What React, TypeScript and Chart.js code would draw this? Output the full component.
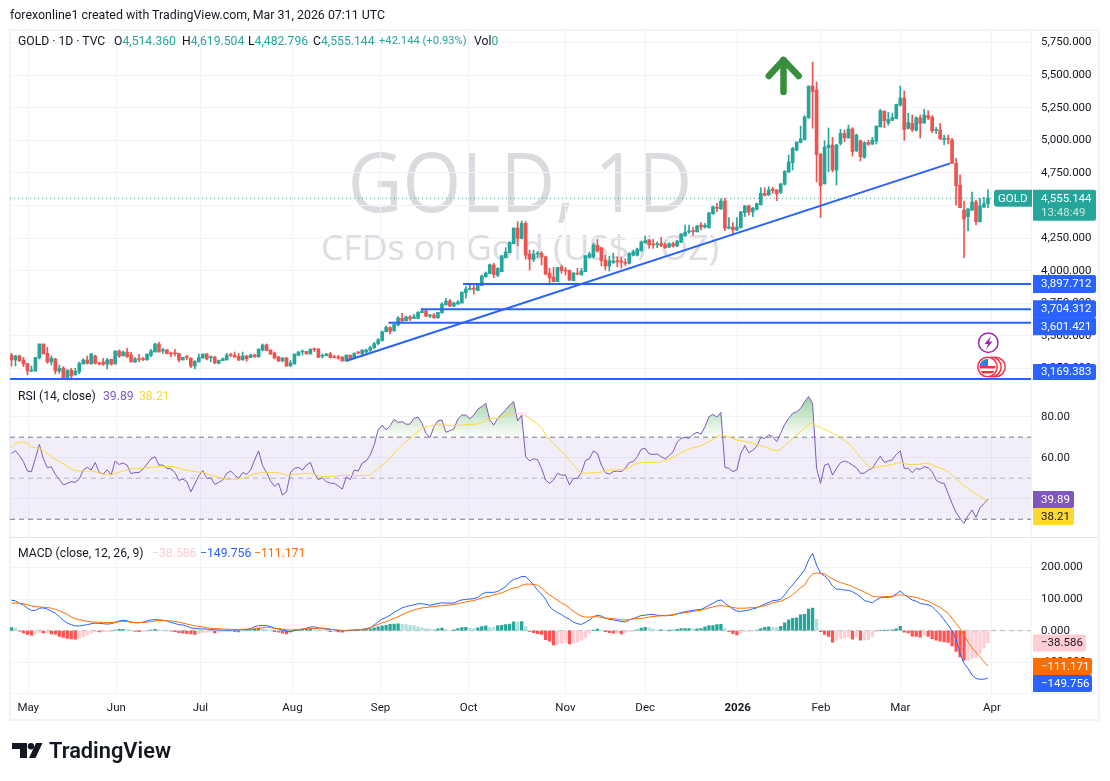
import React, { useEffect, useRef } from "react";
import { Chart, registerables } from "chart.js";

Chart.register(...registerables);

const FONT = 'Roboto, "Noto Sans", sans-serif';
const GREEN = "#26a69a";
const RED = "#ef5350";
const BLUE = "#2962ff";
const GRID = "#f0f3fa";
const TEXT = "#131722";

const open = [
  3353,3315,3346,3315,3289,3230,3230,3330,3438,3366,
  3300,3323,3230,3253,3167,3238,3200,3223,3284,3315,
  3284,3346,3289,3300,3284,3320,3284,3384,3346,3376,
  3353,3300,3325,3320,3315,3351,3376,3438,3384,3392,
  3369,3369,3366,3315,3340,3330,3269,3300,3330,3361,
  3333,3338,3289,3310,3315,3353,3351,3343,3315,3346,
  3333,3353,3340,3392,3430,3392,3369,3338,3310,3330,
  3269,3284,3351,3376,3381,3361,3399,3399,3343,3348,
  3361,3340,3338,3338,3307,3351,3330,3374,3361,3376,
  3390,3410,3440,3465,3532,3563,3540,3583,3634,3616,
  3645,3634,3634,3678,3691,3652,3660,3639,3678,3737,
  3767,3729,3744,3752,3831,3857,3867,3847,3885,3954,
  3977,4043,3964,3992,4100,4138,4207,4327,4248,4363,
  4128,4087,4128,4133,4107,3982,3949,3916,4030,4005,
  4002,3923,3982,3967,3992,4102,4107,4194,4174,4082,
  4036,4061,4074,4074,4064,4056,4118,4118,4151,4214,
  4235,4204,4199,4209,4199,4181,4207,4189,4220,4268,
  4296,4306,4299,4350,4335,4330,4437,4486,4475,4534,
  4325,4335,4312,4330,4445,4496,4450,4470,4506,4593,
  4580,4626,4619,4600,4662,4757,4828,4925,4982,5005,
  5173,5416,5385,4895,4665,4943,4963,4772,4976,5053,
  5018,5087,4920,4997,4869,4982,4971,4994,5102,5222,
  5132,5153,5168,5268,5324,5091,5130,5076,5171,5132,
  5189,5178,5074,5079,5007,5012,5002,4823,4657,4465,
  4414,4465,4527,4376,4488,4514.36,
];

const high = [
  3366,3351,3353,3335,3289,3269,3335,3438,3438,3412,
  3346,3328,3277,3264,3238,3251,3251,3299,3325,3346,
  3366,3353,3300,3328,3328,3320,3384,3392,3384,3404,
  3374,3333,3358,3335,3361,3397,3443,3450,3404,3397,
  3376,3397,3366,3335,3351,3330,3310,3361,3361,3366,
  3346,3343,3315,3330,3366,3366,3376,3366,3376,3351,
  3361,3361,3399,3438,3438,3392,3376,3343,3335,3335,
  3312,3361,3381,3392,3381,3399,3407,3402,3361,3366,
  3374,3351,3351,3340,3353,3356,3371,3379,3392,3399,
  3420,3450,3480,3536,3576,3570,3591,3647,3673,3652,
  3655,3665,3686,3711,3703,3665,3673,3680,3755,3788,
  3780,3760,3770,3836,3877,3890,3895,3898,3967,3990,
  4051,4056,4023,4115,4176,4222,4327,4376,4381,4376,
  4158,4158,4146,4146,4112,4018,4025,4025,4043,4025,
  4005,3985,4018,4018,4115,4143,4209,4240,4179,4118,
  4112,4133,4107,4102,4090,4138,4158,4174,4227,4266,
  4240,4240,4222,4255,4214,4214,4220,4235,4286,4350,
  4350,4332,4348,4368,4363,4447,4496,4516,4550,4555,
  4407,4368,4407,4455,4501,4504,4486,4519,4636,4636,
  4644,4639,4619,4670,4767,4887,4946,4987,5109,5189,
  5416,5600,5447,4895,4997,5094,5023,4969,5084,5079,
  5117,5097,5048,5002,4989,5000,5023,5109,5237,5227,
  5214,5207,5276,5416,5378,5207,5194,5181,5194,5237,
  5227,5189,5100,5130,5040,5040,5015,4861,4734,4534,
  4478,4603,4542,4555,4562,4619.504,
];

const low = [
  3269,3269,3302,3264,3200,3225,3230,3323,3361,3289,
  3277,3208,3213,3167,3162,3162,3200,3208,3284,3284,
  3284,3284,3277,3274,3246,3277,3284,3335,3346,3335,
  3300,3294,3302,3310,3315,3340,3376,3376,3366,3361,
  3338,3346,3300,3315,3315,3256,3246,3300,3330,3315,
  3300,3287,3284,3310,3315,3340,3335,3310,3315,3305,
  3333,3335,3335,3384,3386,3356,3323,3302,3300,3266,
  3266,3284,3346,3353,3361,3361,3379,3335,3330,3346,
  3330,3330,3320,3307,3305,3323,3325,3361,3358,3370,
  3380,3400,3430,3460,3530,3514,3535,3576,3609,3616,
  3616,3634,3629,3678,3647,3640,3634,3634,3673,3737,
  3724,3724,3742,3750,3790,3852,3821,3847,3885,3949,
  3977,3946,3954,3992,4100,4138,4205,4191,4243,4087,
  4005,4069,4100,4043,3967,3890,3916,3916,3980,3967,
  3923,3923,3967,3967,3992,4095,4097,4141,4036,4005,
  3997,4056,4031,4018,4040,4051,4112,4112,4151,4210,
  4171,4171,4176,4184,4171,4176,4180,4184,4215,4261,
  4286,4273,4296,4312,4325,4325,4432,4453,4470,4307,
  4320,4274,4307,4325,4414,4427,4414,4465,4503,4573,
  4578,4593,4537,4590,4657,4752,4772,4920,4979,5002,
  5168,5092,4680,4407,4665,4759,4757,4657,4963,4989,
  5015,4879,4912,4841,4861,4960,4966,4971,5102,5097,
  5117,5150,5163,5263,5000,5086,5066,5071,5017,5130,
  5158,5058,5050,5007,4966,4971,4823,4503,4483,4100,
  4304,4460,4350,4371,4483,4482.796,
];

const close = [
  3315,3346,3310,3284,3230,3238,3335,3438,3361,3300,
  3330,3230,3253,3167,3238,3192,3228,3289,3315,3289,
  3361,3289,3284,3282,3315,3282,3384,3346,3376,3340,
  3300,3323,3320,3318,3361,3384,3438,3376,3394,3363,
  3361,3363,3315,3335,3333,3269,3305,3335,3361,3323,
  3338,3292,3312,3325,3353,3351,3338,3315,3346,3325,
  3353,3340,3399,3430,3386,3361,3330,3307,3330,3269,
  3292,3361,3376,3381,3361,3399,3394,3335,3351,3361,
  3333,3333,3330,3307,3353,3325,3366,3369,3392,3390,
  3410,3440,3470,3532,3565,3535,3588,3637,3616,3645,
  3630,3647,3680,3691,3652,3660,3639,3680,3744,3767,
  3729,3752,3760,3836,3859,3864,3857,3890,3959,3982,
  4046,3969,4018,4115,4143,4217,4327,4248,4363,4120,
  4089,4128,4133,4107,3974,3944,3916,4025,4000,3997,
  3928,3982,3974,3997,4115,4128,4197,4151,4077,4036,
  4077,4074,4069,4064,4056,4133,4146,4166,4220,4230,
  4199,4197,4204,4191,4176,4207,4189,4227,4281,4296,
  4306,4299,4342,4335,4348,4442,4491,4478,4534,4327,
  4335,4312,4335,4450,4496,4450,4478,4514,4593,4578,
  4619,4613,4588,4665,4762,4833,4938,4987,5010,5178,
  5416,5373,4890,4652,4948,4963,4772,4963,5053,5020,
  5087,4913,5040,4874,4982,4970,5002,5109,5227,5150,
  5160,5176,5276,5324,5081,5138,5081,5171,5130,5194,
  5171,5074,5079,5010,5015,5007,4823,4652,4483,4396,
  4473,4527,4376,4498,4514,4555.144,
];

const rsi = [
  62.1,63.4,61,58,53.5,53.2,59.7,66.5,59.4,55.1,
  55.6,51.9,49.4,46.7,47.5,48.3,48,49.6,54,55.3,
  54,57.7,52.8,52,54.1,51.5,58.4,56.7,57.4,56.4,
  52.2,52.8,52.8,54.5,56.9,59.4,60.5,56.4,56.4,54.8,
  54.5,52.8,48.9,49.6,48.3,43.4,47.2,51.2,53.7,49.9,
  50.2,47,48,49.1,52.4,53.5,51.5,49.9,52.8,51.9,
  54,58.9,63.3,56.1,52.8,48.6,46,47.5,41.8,43.4,
  52.8,54.8,55.3,54,56.4,57.7,52.4,49.3,50.2,48.3,
  47.6,47.5,46.2,44.7,50.6,49.4,54,53.5,57.4,58.4,
  61.3,66.2,73.5,75.9,73.5,75.6,78.7,77.2,77.6,76.3,
  76.4,79.2,79.8,76.7,71.9,69.8,75.1,78,78.4,72.4,
  73.2,74,78.9,80.8,80.8,78.9,80.8,83.7,84.9,86.5,
  78.4,75.9,79.2,81.3,83.3,85.7,87.3,77.9,80.8,60.5,
  58.4,59.5,59,54.8,49.1,47.5,49.1,52.4,51.5,51.5,
  46.7,49.9,49.9,52.8,58.6,59.5,63.3,62.1,56.4,52.7,
  52,53.2,53.5,53.2,54.8,57.7,58,60.5,64.1,64.6,
  61.8,61.6,61.8,60.5,59.4,61,62.9,67.5,69.4,69.9,
  69.4,71.4,72.4,71.5,75.1,80,81.1,79.8,82.1,55.3,
  54.8,53.2,54.1,62.1,65.9,62.4,63.6,65.5,69.9,69.4,
  71.1,70.2,67.8,71.9,76.3,79.2,81.6,82.4,84,87.3,
  89.8,86.5,54.8,47.5,56.4,57.1,51.5,54.8,57.6,58.4,
  57.7,56.4,55.1,52.4,52.4,54,54.8,58,60.7,57.7,
  58.4,58.9,61.6,63.3,54.8,54.8,52.7,54.8,54.3,55.6,
  55.1,53.2,49.1,47.8,47.5,42.6,37.7,33.3,30.4,28,
  31.7,34.5,30.9,35.6,37.6,39.89,
];

const rsiMa = [
  65,67,67.5,67.6,67,65.2,64.9,64.6,63.3,62.1,
  60.7,59.2,58.2,57.1,55.8,54.6,53.7,53.5,53.5,53.5,
  53.5,53.2,52.5,52,51.7,51.7,52.4,53,53.5,54,
  54.5,54.6,54.8,55,55.1,55.3,55.4,55.8,55.8,55.8,
  55.8,55.4,55,54.3,54,53.5,53.2,53,52.8,52.2,
  51.5,51,50.4,49.8,49.4,49.3,49.3,49.8,50.1,50.6,
  51.5,52.2,52.5,52.8,52.8,52.8,52.7,52.7,52.2,51.4,
  51.5,51.9,52,52.2,52.4,52.4,51.9,51.2,50.7,50.9,
  50.9,51,51.2,51.4,51.4,51.4,51.2,51.2,51.4,51.4,
  51.5,53.2,54.8,56.4,57.9,59.7,62.1,64.2,66.2,67.8,
  69.4,71.1,73,74.5,75,75.4,75.8,75.9,75.9,75.9,
  75.8,75.6,75.8,75.9,76.1,76.3,76.3,76.4,77.2,78.5,
  79.2,79.2,79.2,80,80.7,81.3,81.5,81.5,81.6,80.5,
  79.2,77.9,76.3,74.8,71.4,68.9,67,64.9,63.1,61,
  58.7,56.4,54.3,52.5,52.4,52.5,52.7,52.8,53,53.5,
  54,54,54.1,54.3,54.3,55.1,56.4,57.2,57.6,57.7,
  57.7,57.7,57.7,58,58.7,59.4,60.2,61.3,62.3,63.3,
  64.2,64.9,65.2,65.9,66.8,67.8,69.1,70.2,71,70.8,
  70.1,69.4,68.6,68.3,67.8,67.5,67,66.5,65.9,65.4,
  64.6,63.7,63.3,64.2,65.9,67.5,69.4,71.1,72.7,74.3,
  76.4,76.7,75.6,74.6,73.8,73,71.9,71,69.9,68.3,
  67.2,64.9,62.6,60.2,58,55.9,54.8,55.3,55.8,55.9,
  56.3,56.7,57.2,57.6,57.2,56.7,56.7,56.7,56.9,57.1,
  57.2,56.4,55.6,55,54.1,53.3,51.5,49.6,48,46.2,
  45,43.7,42.4,41,39.8,38.21,
];

const macd = [
  96,94,86,81,71,64,64,71,72,68,
  62,55,44,33,24,19,15,15,17,19,
  22,24,23,22,21,22,26,31,33,31,
  27,25,25,27,31,34,35,34,33,31,
  26,23,19,18,14,9,7,6,6,5,
  4,3,2,2,1,2,2,3,4,4,
  6,13,16,16,16,13,8,5,2,-1,
  -3,0,3,5,8,12,12,9,8,7,
  5,3,1,0,0,1,2,3,4,7,
  9,18,28,37,42,49,58,65,72,76,
  79,82,85,85,83,80,83,86,88,87,
  87,87,93,97,99,100,101,105,115,121,
  121,121,124,131,139,153,162,165,171,171,
  158,144,128,115,99,76,65,57,51,42,
  36,27,22,20,26,34,44,49,46,40,
  36,34,32,29,28,34,38,43,48,49,
  51,51,49,48,47,48,49,53,57,60,
  62,64,66,67,73,80,86,94,97,87,
  78,68,62,61,63,65,69,72,78,84,
  89,95,96,99,113,131,144,160,176,192,
  223,244,207,181,173,160,141,131,131,128,
  128,123,116,107,95,92,88,97,104,105,
  105,107,116,125,114,105,97,93,86,84,
  82,76,63,51,34,18,0,-27,-72,-103,
  -119,-140,-151,-153,-153,-149.756,
];

const signal = [
  87,87,87,85,82,78,76,75,74,73,
  71,67,63,57,52,43,38,35,32,29,
  28,27,27,26,26,26,27,28,29,29,
  27,26,26,26,27,28,31,32,32,31,
  31,29,27,24,21,18,15,14,12,9,
  8,7,6,5,5,4,4,4,4,5,
  5,6,8,9,11,9,8,7,5,3,
  2,3,4,5,6,7,7,7,6,5,
  4,3,2,1,1,2,2,3,4,6,
  9,15,20,25,28,34,39,44,51,56,
  61,65,69,72,73,75,76,78,79,80,
  81,83,85,88,91,93,95,99,103,107,
  109,113,116,120,124,131,135,136,143,147,
  147,146,143,134,123,113,105,96,88,81,
  71,61,53,46,43,43,44,44,42,40,
  39,38,36,34,34,35,37,38,39,41,
  43,45,46,47,48,49,51,53,55,57,
  59,61,63,65,68,72,75,78,79,78,
  76,73,71,71,71,72,73,74,76,79,
  83,88,91,93,99,105,114,124,136,144,
  165,179,182,181,179,171,163,157,152,148,
  144,139,133,128,122,116,109,107,107,107,
  108,109,112,113,112,109,107,105,101,97,
  93,86,80,74,64,55,39,23,7,-14,
  -35,-54,-68,-82,-98,-111.171,
];

const histogram = [
  10,8,-1,-7,-12,-14,-10,-6,-7,-6,
  -10,-11,-18,-21,-24,-26,-27,-24,-19,-13,
  -8,-3,-4,-4,-4,-3,2,4,4,3,
  1,-2,-3,-2,-1,1,4,3,2,1,
  -1,-3,-6,-8,-9,-10,-12,-9,-6,-5,
  -4,-7,-5,-4,-3,-2,-3,-4,2,3,
  5,6,8,6,4,2,-3,-5,-8,-10,
  -7,1,3,4,5,6,5,3,2,1,
  -3,-3,-4,-5,-2,-1,0,1,3,4,
  6,9,12,15,17,20,21,22,21,19,
  17,15,12,9,7,5,4,6,8,4,
  2,3,7,10,11,8,7,9,13,15,
  11,10,16,17,19,21,28,27,29,13,
  -2,-6,-9,-12,-28,-33,-45,-43,-40,-37,
  -42,-38,-36,-30,-22,-8,1,5,2,-3,
  -6,-8,-8,-10,-6,-3,-1,3,8,11,
  9,6,3,3,1,1,2,4,7,7,
  7,6,6,7,12,16,16,19,20,7,
  -3,-9,-13,-8,-4,-2,-1,2,7,11,
  12,11,10,14,25,34,39,41,50,52,
  68,71,36,-3,-12,-18,-36,-30,-25,-22,
  -20,-27,-20,-30,-30,-28,-18,-3,0,2,
  2,3,6,14,-5,-7,-17,-18,-20,-14,
  -18,-25,-30,-33,-35,-37,-48,-65,-83,-93,
  -93,-88,-85,-72,-55,-38.586,
];

const monthPositions = [4.2, 26.3, 47.4, 70.5, 92.6, 114.7, 139, 159, 182.2, 203.1, 223, 246];
const monthLabels = ["May", "Jun", "Jul", "Aug", "Sep", "Oct", "Nov", "Dec", "2026", "Feb", "Mar", "Apr"];
const priceTicks = [3250, 3500, 3750, 4000, 4250, 4500, 4750, 5000, 5250, 5500, 5750];
const rsiTicks = [40, 60, 80];
const macdTicks = [-100, 0, 100, 200];

const xMin = -0.376;
const xMax = 255.8;
const lastPrice = 4555.144;
const supportLevels = [3897.712, 3704.312, 3601.421, 3169.383];
const supportStarts = [113.3, 102.8, 94.6, xMin];
const trendX = [84.1, 235.5];
const trendY = [3309.5, 4823];
const arrowHeadX = [190, 193.7, 197.5];
const arrowHeadY = [5493, 5615, 5493];
const arrowShaftX = [193.7, 193.7];
const arrowShaftY = [5615, 5370];

const fmt = (v: number) => v.toLocaleString("en-US", { minimumFractionDigits: 3, maximumFractionDigits: 3 });
const pts = (xs: number[], ys: number[]) => xs.map((x, i) => ({ x, y: ys[i] }));
const flat = (v: number, from = xMin) => [{ x: from, y: v }, { x: xMax, y: v }];
const series = (vs: number[]) => vs.map((y, x) => ({ x, y }));

function line(data: any, yAxisID: string, color: string, width: number, order: number, extra: any = {}) {
  return {
    type: "line", data, yAxisID, xAxisID: "x", borderColor: color, borderWidth: width, order,
    pointRadius: 0, fill: false, tension: 0, spanGaps: true, ...extra,
  };
}

function tag(ctx: any, x: number, y: number, w: number, h: number, bg: string, fg: string, text: string) {
  ctx.fillStyle = bg;
  ctx.beginPath();
  ctx.roundRect(x, y, w, h, [0, 2, 2, 0]);
  ctx.fill();
  ctx.fillStyle = fg;
  ctx.font = `11.5px ${FONT}`;
  ctx.textAlign = "left";
  ctx.textBaseline = "middle";
  ctx.fillText(text, x + 8, y + h / 2 + 0.5);
}

const overlay = {
  id: "overlay",
  beforeDraw(chart: any) {
    const { ctx } = chart;
    ctx.save();
    ctx.strokeStyle = GRID;
    ctx.lineWidth = 2;
    ctx.strokeRect(10, 30, 1089, 690);
    ctx.restore();
  },
  afterDraw(chart: any) {
    const { ctx, chartArea: a, scales } = chart;
    const y = scales.y;
    ctx.save();
    // pane separators
    ctx.strokeStyle = "#e0e3eb";
    ctx.lineWidth = 1;
    [scales.macd.top].forEach((v: number) => {
      ctx.beginPath();
      ctx.moveTo(a.left, Math.round(v) - 0.5);
      ctx.lineTo(1098, Math.round(v) - 0.5);
      ctx.stroke();
    });
    ctx.beginPath();
    ctx.moveTo(a.left, a.bottom + 0.5);
    ctx.lineTo(1098, a.bottom + 0.5);
    ctx.moveTo(a.right + 0.5, a.top);
    ctx.lineTo(a.right + 0.5, a.bottom);
    ctx.strokeStyle = GRID;
    ctx.stroke();

    const tx = a.right + 2;
    // symbol + price tags
    const py = y.getPixelForValue(lastPrice);
    ctx.fillStyle = GREEN;
    ctx.beginPath();
    ctx.roundRect(994, py - 8.5, 38, 17, [3, 0, 0, 3]);
    ctx.fill();
    ctx.fillStyle = "#fff";
    ctx.font = `11.5px ${FONT}`;
    ctx.textBaseline = "middle";
    ctx.textAlign = "left";
    ctx.fillText("GOLD", 998, py + 0.5);
    ctx.fillStyle = GREEN;
    ctx.beginPath();
    ctx.roundRect(tx, py - 8.5, 63, 31, [0, 2, 2, 0]);
    ctx.fill();
    ctx.fillStyle = "#fff";
    ctx.fillText(fmt(lastPrice), tx + 8, py + 0.5);
    ctx.fillStyle = "#c4e8e3";
    ctx.fillText("13:48:49", tx + 8, py + 14.5);

    // level tags
    tag(ctx, tx, y.getPixelForValue(supportLevels[0]) - 9, 63, 18, BLUE, "#fff", fmt(supportLevels[0]));
    const m = y.getPixelForValue(supportLevels[1]);
    tag(ctx, tx, m - 9, 63, 17.5, BLUE, "#fff", fmt(supportLevels[1]));
    tag(ctx, tx, m + 8, 63, 18, BLUE, "#fff", fmt(supportLevels[2]));
    tag(ctx, tx, y.getPixelForValue(supportLevels[3]) - 15, 63, 16, BLUE, "#fff", fmt(supportLevels[3]));

    // rsi tags
    const r = scales.rsi;
    tag(ctx, tx, r.getPixelForValue(39.89) - 8, 41, 17, "#7e57c2", "#fff", "39.89");
    tag(ctx, tx, r.getPixelForValue(39.89) + 9, 41, 17, "#fdd835", TEXT, "38.21");

    // macd tags
    const c = scales.macd;
    tag(ctx, tx, c.getPixelForValue(-38.586) - 8.5, 53, 17, "#ffcdd2", TEXT, "\u221238.586");
    tag(ctx, tx, c.getPixelForValue(-111.171) - 8, 59, 17, "#ff6d00", "#fff", "\u2212111.171");
    tag(ctx, tx, c.getPixelForValue(-111.171) + 9, 59, 17, BLUE, "#fff", "\u2212149.756");

    // event icons
    ctx.lineWidth = 1.5;
    ctx.strokeStyle = "#9c27b0";
    ctx.fillStyle = "#fff";
    ctx.beginPath();
    ctx.arc(988.3, 342.7, 9.7, 0, Math.PI * 2);
    ctx.fill();
    ctx.stroke();
    ctx.fillStyle = "#9c27b0";
    ctx.beginPath();
    ctx.moveTo(991, 336);
    ctx.lineTo(984.5, 344);
    ctx.lineTo(988, 344);
    ctx.lineTo(986, 349.5);
    ctx.lineTo(992.5, 341.5);
    ctx.lineTo(989, 341.5);
    ctx.closePath();
    ctx.fill();
    [995.5, 991.5, 987.5].forEach((cx) => {
      ctx.strokeStyle = "#f23645";
      ctx.fillStyle = "#fff";
      ctx.beginPath();
      ctx.arc(cx, 367, 9.7, 0, Math.PI * 2);
      ctx.fill();
      ctx.stroke();
    });
    ctx.save();
    ctx.beginPath();
    ctx.arc(987.5, 367, 8, 0, Math.PI * 2);
    ctx.clip();
    ctx.fillStyle = "#e53935";
    ctx.fillRect(979, 366, 17, 2.5);
    ctx.fillRect(979, 371, 17, 2.5);
    ctx.fillStyle = "#1e88e5";
    ctx.fillRect(979, 359, 9, 7);
    ctx.restore();
    ctx.restore();
  },
};

const Label = ({ x, y, color = TEXT, size = 12.2, weight = 400, children }: any) => (
  <span
    style={{
      position: "absolute", left: x, top: y, transform: "translateY(-50%)", color, fontSize: size,
      fontWeight: weight, fontFamily: FONT, whiteSpace: "nowrap", lineHeight: 1,
    }}
  >
    {children}
  </span>
);

export default function App() {
  const ref = useRef<HTMLCanvasElement>(null);
  useEffect(() => {
    document.body.style.margin = "0";
    const canvas = ref.current!;
    const ctx = canvas.getContext("2d")!;
    const glow = ctx.createLinearGradient(0, 400, 0, 438);
    glow.addColorStop(0, "rgba(76,175,80,0.5)");
    glow.addColorStop(1, "rgba(76,175,80,0)");
    const candleColors = close.map((c, i) => (c >= open[i] ? GREEN : RED));
    const histColors = histogram.map((v, i) => {
      const prev = i ? histogram[i - 1] : v;
      if (v >= 0) return v >= prev ? GREEN : "#b2dfdb";
      return v < prev ? "#ff5252" : "#ffcdd2";
    });
    const chart = new Chart(ctx, {
      type: "bar",
      data: {
        datasets: [
          line(flat(lastPrice), "y", GREEN, 1, 40, { borderDash: [1, 3] }),
          {
            type: "bar", yAxisID: "y", xAxisID: "x", grouped: false, order: 21, barThickness: 1,
            data: high.map((h, i) => ({ x: i, y: [low[i], h] })), backgroundColor: candleColors,
          },
          {
            type: "bar", yAxisID: "y", xAxisID: "x", grouped: false, order: 20, barThickness: 3, minBarLength: 1,
            data: close.map((c, i) => ({ x: i, y: [open[i], c] })), backgroundColor: candleColors,
          },
          ...supportLevels.map((v, i) => line(flat(v, supportStarts[i]), "y", BLUE, 2, 5)),
          line(pts(trendX, trendY), "y", BLUE, 2, 5),
          line(pts(arrowHeadX, arrowHeadY), "y", "#388e3c", 6.5, 4, { borderCapStyle: "round", borderJoinStyle: "round" }),
          line(pts(arrowShaftX, arrowShaftY), "y", "#388e3c", 6.5, 4, { borderCapStyle: "round" }),
          line(flat(70), "rsi", "#787b86", 1, 30, { borderDash: [5, 4] }),
          line(flat(30), "rsi", "#787b86", 1, 30, { borderDash: [5, 4], fill: "-1", backgroundColor: "rgba(126,87,194,0.1)" }),
          line(flat(50), "rsi", "rgba(120,123,134,0.5)", 1, 30, { borderDash: [5, 4] }),
          line(series(rsi), "rsi", "#7e57c2", 1, 11, { fill: { target: { value: 70 }, above: glow, below: "rgba(0,0,0,0)" } }),
          line(series(rsiMa), "rsi", "#fdd835", 1, 10),
          line(flat(0), "macd", "rgba(120,123,134,0.5)", 1, 30, { borderDash: [5, 4] }),
          {
            type: "bar", yAxisID: "macd", xAxisID: "x", grouped: false, order: 20, barThickness: 2.6,
            data: histogram.map((v, i) => ({ x: i, y: v })), backgroundColor: histColors,
          },
          line(series(macd), "macd", BLUE, 1, 11),
          line(series(signal), "macd", "#ff6d00", 1, 10),
        ],
      } as any,
      options: {
        responsive: false,
        animation: false,
        events: [],
        layout: { padding: { left: 10, top: 31, right: 12, bottom: 61 } },
        plugins: { legend: { display: false }, tooltip: { enabled: false }, title: { display: false } },
        scales: {
          x: {
            type: "linear", position: "bottom", min: xMin, max: xMax, offset: false,
            grid: { color: GRID, drawTicks: false, offset: false },
            border: { display: false },
            afterBuildTicks: (s: any) => { s.ticks = monthPositions.map((value) => ({ value })); },
            afterFit: (s: any) => { s.height = 27; },
            ticks: {
              autoSkip: false, maxRotation: 0, padding: 8, color: TEXT,
              font: (c: any) => ({ family: FONT, size: 11.5, weight: c.tick && c.tick.value === 182.2 ? "bold" : "normal" }),
              callback: (v: any) => monthLabels[monthPositions.indexOf(v)],
            },
          },
          y: {
            position: "right", stack: "panes", stackWeight: 351, weight: 1, min: 3146.2, max: 5837.9,
            grid: { color: GRID, drawTicks: false }, border: { display: false },
            afterBuildTicks: (s: any) => { s.ticks = priceTicks.map((value) => ({ value })); },
            afterFit: (s: any) => { s.width = 67; },
            ticks: { autoSkip: false, padding: 10, color: TEXT, font: { family: FONT, size: 11.5 }, callback: (v: any) => fmt(v) },
          },
          rsi: {
            position: "right", stack: "panes", stackWeight: 155.5, weight: 2, min: 21.1, max: 96.9,
            grid: { color: GRID, drawTicks: false }, border: { display: false },
            afterBuildTicks: (s: any) => { s.ticks = rsiTicks.map((value) => ({ value })); },
            afterFit: (s: any) => { s.width = 67; },
            ticks: { autoSkip: false, padding: 10, color: TEXT, font: { family: FONT, size: 11.5 }, callback: (v: any) => Number(v).toFixed(2) },
          },
          macd: {
            position: "right", stack: "panes", stackWeight: 155.5, weight: 3, min: -196.5, max: 294,
            grid: { color: GRID, drawTicks: false }, border: { display: false },
            afterBuildTicks: (s: any) => { s.ticks = macdTicks.map((value) => ({ value })); },
            afterFit: (s: any) => { s.width = 67; },
            ticks: { autoSkip: false, padding: 10, color: TEXT, font: { family: FONT, size: 11.5 }, callback: (v: any) => fmt(v) },
          },
        },
      } as any,
      plugins: [overlay],
    });
    return () => chart.destroy();
  }, []);

  return (
    <div style={{ position: "absolute", left: 0, top: 0, width: 1110, height: 781, overflow: "hidden", background: "#fff" }}>
      <div style={{ position: "absolute", left: 160, top: 180, width: 720, textAlign: "center", transform: "translateY(-50%) scaleX(0.92)", fontFamily: '"Open Sans", sans-serif', fontSize: 82, color: "#dadbde", lineHeight: 1 }}>
        GOLD, 1D
      </div>
      <div style={{ position: "absolute", left: 160, top: 247, width: 720, textAlign: "center", transform: "translateY(-50%)", fontFamily: '"Open Sans", sans-serif', fontSize: 35.5, color: "#dcdde0", lineHeight: 1 }}>
        CFDs on Gold (US$ / OZ)
      </div>
      <canvas ref={ref} width={1110} height={781} style={{ position: "absolute", left: 0, top: 0, display: "block" }} />

      <Label x={10} y={15} size={12.4}>forexonline1 created with TradingView.com, Mar 31, 2026 07:11 UTC</Label>

      <Label x={18} y={41}>GOLD · 1D · TVC</Label>
      <Label x={114} y={41}>O<span style={{ color: GREEN }}>4,514.360</span></Label>
      <Label x={182} y={41}>H<span style={{ color: GREEN }}>4,619.504</span></Label>
      <Label x={248} y={41}>L<span style={{ color: GREEN }}>4,482.796</span></Label>
      <Label x={313} y={41}>C<span style={{ color: GREEN }}>4,555.144</span></Label>
      <Label x={379} y={41} size={11.2} color={GREEN}>+42.144 (+0.93%)</Label>
      <Label x={474} y={41}>Vol<span style={{ color: GREEN }}>0</span></Label>

      <Label x={18} y={396}>RSI (14, close)</Label>
      <Label x={103} y={396} color="#7e57c2">39.89</Label>
      <Label x={139} y={396} color="#fdd835">38.21</Label>

      <Label x={18} y={553}>MACD (close, 12, 26, 9)</Label>
      <Label x={152} y={553} color="#ffcdd2">{"\u221238.586"}</Label>
      <Label x={200} y={553} color={BLUE}>{"\u2212149.756"}</Label>
      <Label x={254} y={553} color="#ff6d00">{"\u2212111.171"}</Label>

      <svg width="32" height="16" viewBox="0 0 32 16" style={{ position: "absolute", left: 12, top: 743 }}>
        <path d="M0 0H15V15H8V6H0Z M24 0H30.5L23.5 15H17Z" fill="#131722" />
        <circle cx="19" cy="3.2" r="3.2" fill="#131722" />
      </svg>
      <Label x={49} y={751} size={21.8} weight={600} color="#131722">TradingView</Label>
    </div>
  );
}
